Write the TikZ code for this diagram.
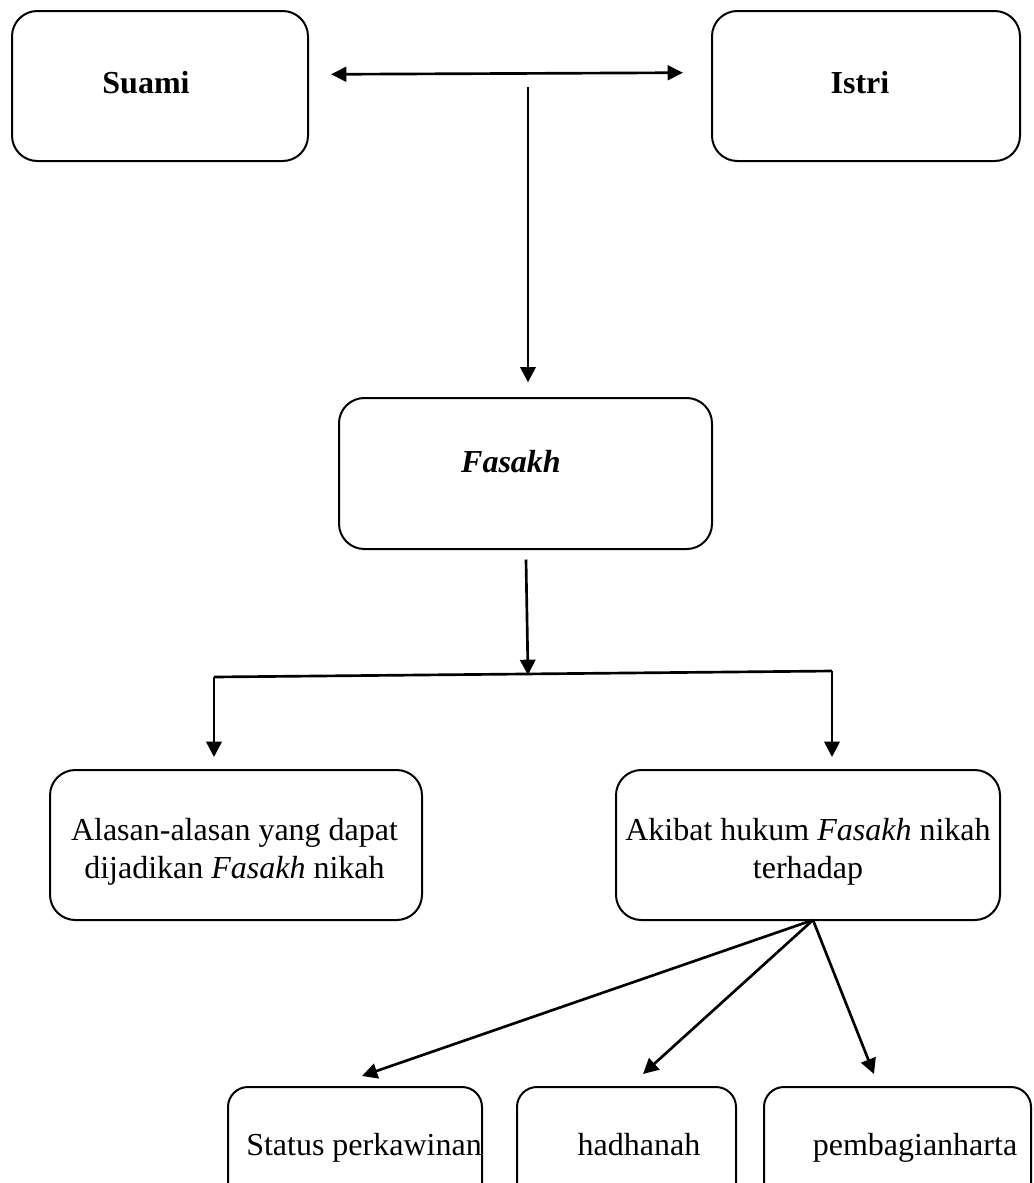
\documentclass[tikz,border=0pt]{standalone}
\usepackage{fontspec}
\setmainfont{Liberation Serif}
\usetikzlibrary{arrows.meta,fit}
\begin{document}
\begin{tikzpicture}[x=0.75pt,y=-0.75pt,
  box/.style={draw, line width=1.5pt, rounded corners=19pt, inner sep=0pt},
  sbox/.style={box, rounded corners=15pt},
  line/.style={line width=2pt},
  conn/.style={line, -{Triangle[length=11.5pt,width=11.5pt]}},
  dbl/.style={line, {Triangle[length=11.5pt,width=11pt]}-{Triangle[length=11.5pt,width=11pt]}},
  lbl/.style={anchor=base, inner sep=0pt, font=\fontsize{24}{28.5}\selectfont}]
\useasboundingbox (0,0) rectangle (1033,1183);
\clip (0,0) rectangle (1033,1183);

% boxes
\node[box, fit={(12,11)(308,161)}] (suami) {};
\node[box, fit={(712,11)(1020,161)}] (istri) {};
\node[box, fit={(339,398)(712,549)}] (fasakh) {};
\node[box, fit={(50,770)(422,920)}] (alasan) {};
\node[box, fit={(616,770)(1000,920)}] (akibat) {};
\node[sbox, fit={(228,1087)(482,1250)}] (status) {};
\node[sbox, fit={(517,1087)(736,1250)}] (hadhanah) {};
\node[sbox, fit={(764,1087)(1031,1250)}] (harta) {};

% texts
\node[lbl] (suamiT) at (146,93) {\textbf{Suami}};
\node[lbl] (istriT) at (860,93) {\textbf{Istri}};
\node[lbl] (fasakhT) at (511,472) {\textbf{\textit{Fasakh}}};
\node[lbl] (alasanT) at (234.5,840) {\begin{tabular}[t]{@{}c@{}}Alasan-alasan yang dapat\\ dijadikan \textit{Fasakh} nikah\end{tabular}};
\node[lbl] (akibatT) at (808,840.5) {\begin{tabular}[t]{@{}c@{}}Akibat hukum \textit{Fasakh} nikah\\ terhadap\end{tabular}};
\node[lbl] (statusT) at (364,1155) {Status perkawinan};
\node[lbl] (hadhanahT) at (639,1155) {hadhanah};
\node[lbl] (hartaT) at (915,1155) {pembagianharta};

% connectors
\coordinate (dl) at (331,74.3);
\coordinate (dr) at (683,72.7);
\draw[dbl] (dl) -- (dr);

\coordinate (vs) at (528,87);
\draw[conn, shorten >=11pt] (vs) -- (vs |- fasakh.north);

\coordinate (fs) at (526,559.5);
\coordinate (fj) at (528,675);
\draw[conn] (fs) -- (fj);

\coordinate (bl) at (214,677);
\coordinate (br) at (832,671);
\draw[line] (bl) -- (br);
\draw[conn, shorten >=9pt] (bl) -- (bl |- alasan.north);
\draw[conn, shorten >=9pt] (br) -- (br |- akibat.north);

\coordinate (ak) at (813,920);
\coordinate (t1) at (362,1076);
\coordinate (t2) at (643,1074);
\coordinate (t3) at (874,1074);
\draw[conn] (ak) -- (t1);
\draw[conn] (ak) -- (t2);
\draw[conn] (ak) -- (t3);
\end{tikzpicture}
\end{document}
